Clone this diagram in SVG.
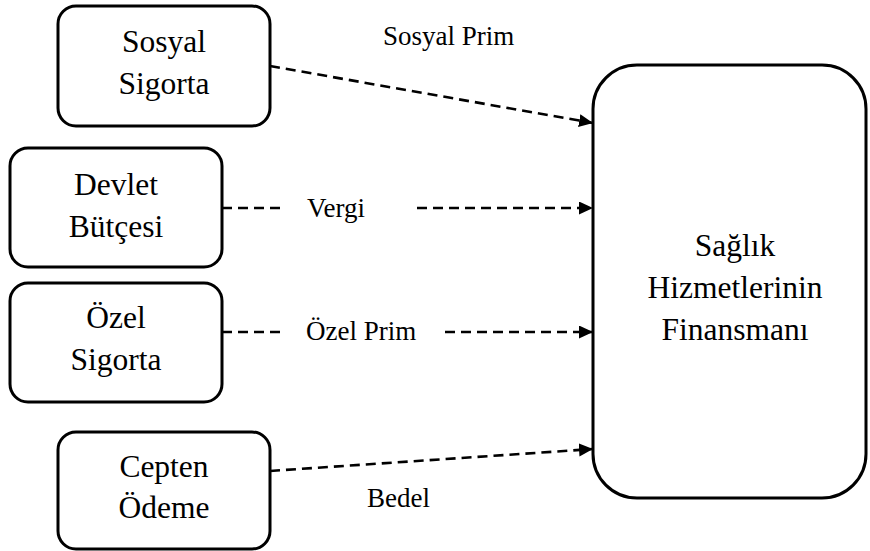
<svg xmlns="http://www.w3.org/2000/svg" width="870" height="551" viewBox="0 0 870 551">
<style>
.box{fill:#fff;stroke:#000;stroke-width:3}
.nt{font-family:'Liberation Serif','Times New Roman',serif;font-size:31.5px;fill:#000;text-anchor:middle}
.el{font-family:'Liberation Serif','Times New Roman',serif;font-size:27px;fill:#000}
.dash{fill:none;stroke:#000;stroke-width:2.6;stroke-dasharray:10 6}
</style>
<defs>
<marker id="arr" markerUnits="userSpaceOnUse" markerWidth="15" markerHeight="14" refX="14" refY="6.5" orient="auto">
<path d="M0,0 L14,6.5 L0,13 z" fill="#000"/>
</marker>
</defs>
<rect width="870" height="551" fill="#fff"/>
<g id="connectors">
<path class="dash" d="M270,66 L593,123" marker-end="url(#arr)"/>
<path class="dash" d="M222,208 L284,208"/>
<path class="dash" d="M417,208 L593,208" marker-end="url(#arr)"/>
<path class="dash" d="M222,332 L284,332"/>
<path class="dash" d="M445,332 L593,332" marker-end="url(#arr)"/>
<path class="dash" d="M270,471 L593,449" marker-end="url(#arr)"/>
<text class="el" x="383" y="45">Sosyal Prim</text>
<text class="el" x="307" y="217">Vergi</text>
<text class="el" x="306" y="340">Özel Prim</text>
<text class="el" x="367" y="507">Bedel</text>
</g>
<g id="sosyal-sigorta">
<rect class="box" x="58" y="6" width="212" height="120" rx="18"/>
<text class="nt" x="164" y="52">Sosyal</text>
<text class="nt" x="164" y="94">Sigorta</text>
</g>
<g id="devlet-butcesi">
<rect class="box" x="10" y="148" width="212" height="119" rx="18"/>
<text class="nt" x="116" y="195">Devlet</text>
<text class="nt" x="116" y="237">Bütçesi</text>
</g>
<g id="ozel-sigorta">
<rect class="box" x="10" y="283" width="212" height="119" rx="18"/>
<text class="nt" x="116" y="328">Özel</text>
<text class="nt" x="116" y="370">Sigorta</text>
</g>
<g id="cepten-odeme">
<rect class="box" x="58" y="432" width="212" height="117" rx="18"/>
<text class="nt" x="164" y="477">Cepten</text>
<text class="nt" x="164" y="518">Ödeme</text>
</g>
<g id="saglik-finansmani">
<rect class="box" x="593" y="65" width="273" height="433" rx="44"/>
<text class="nt" x="735" y="256">Sağlık</text>
<text class="nt" x="735" y="298">Hizmetlerinin</text>
<text class="nt" x="735" y="340">Finansmanı</text>
</g>
</svg>
